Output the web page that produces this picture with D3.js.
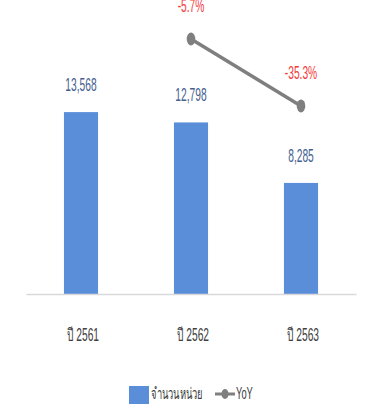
<!DOCTYPE html>
<html><head><meta charset="utf-8">
<script src="https://cdn.jsdelivr.net/npm/d3@7"></script>
<style>html,body{margin:0;padding:0;background:#fff;}svg{display:block;}</style>
</head><body>
<script>
const categories = ["ปี 2561", "ปี 2562", "ปี 2563"];
const units = [13568, 12798, 8285];
const yoy = [null, -5.7, -35.3];
const legendLabels = ["จำนวนหน่วย", "YoY"];

const W = 383, H = 404, SX = 0.585;
const font = "'Liberation Sans', Arial, 'Noto Sans', sans-serif";
const svg = d3.select("body").append("svg").attr("width", W).attr("height", H);

const x = d3.scaleBand().domain(categories).range([26, 356]).paddingInner(0.69).paddingOuter(0.345);
const y = d3.scaleLinear().domain([0, 16000]).range([294, 79.5]);
const y2 = d3.scaleLinear().domain([-40, 0]).range([116.6, 26.1]);

function sText(g, tx, ty, txt, size, color, anchor) {
  return g.append("text")
    .attr("transform", `translate(${tx},${ty}) scale(${SX},1)`)
    .attr("text-anchor", anchor || "middle")
    .attr("font-family", font).attr("font-size", size).attr("fill", color)
    .text(txt);
}

// bars
svg.append("g").selectAll("rect").data(units).join("rect")
  .attr("x", (d, i) => x(categories[i]))
  .attr("y", d => y(d))
  .attr("width", x.bandwidth())
  .attr("height", d => y(0) - y(d))
  .attr("fill", "#5a8ed8");

// axis
const ax = svg.append("g").attr("transform", `translate(0,${y(0)})`)
  .call(d3.axisBottom(x).tickSize(0).tickSizeOuter(0));
ax.select(".domain").attr("stroke", "#d9d9d9").attr("stroke-width", 1.5);
ax.selectAll(".tick text")
  .attr("y", 0).attr("dy", null)
  .attr("transform", `translate(2,47) scale(${SX},1)`)
  .attr("font-family", font).attr("font-size", 17.5).attr("fill", "#404040");

// bar value labels
const lab = svg.append("g");
units.forEach((v, i) => {
  sText(lab, x(categories[i]) + x.bandwidth() / 2, y(v) - 21, d3.format(",")(v), 17.5, "#44608e");
});

// YoY line
const pts = yoy.map((v, i) => ({ c: categories[i], v })).filter(d => d.v !== null);
const line = d3.line().x(d => x(d.c) + x.bandwidth() / 2).y(d => y2(d.v));
svg.append("path").datum(pts).attr("d", line)
  .attr("fill", "none").attr("stroke", "#7f7f7f").attr("stroke-width", 3.5);
svg.append("g").selectAll("ellipse").data(pts).join("ellipse")
  .attr("cx", d => x(d.c) + x.bandwidth() / 2).attr("cy", d => y2(d.v))
  .attr("rx", 4.3).attr("ry", 6.5).attr("fill", "#7f7f7f");
pts.forEach(d => {
  sText(lab, x(d.c) + x.bandwidth() / 2, y2(d.v) - 27, d.v.toFixed(1) + "%", 17.5, "#f23b3b");
});

// legend
const lg = svg.append("g");
lg.append("rect").attr("x", 129).attr("y", 386).attr("width", 20).attr("height", 18).attr("fill", "#5a8ed8");
sText(lg, 151, 399, legendLabels[0], 16, "#404040", "start");
lg.append("line").attr("x1", 215).attr("x2", 235).attr("y1", 394).attr("y2", 394)
  .attr("stroke", "#7f7f7f").attr("stroke-width", 3);
lg.append("ellipse").attr("cx", 225).attr("cy", 394).attr("rx", 3.5).attr("ry", 5).attr("fill", "#7f7f7f");
sText(lg, 236, 399, legendLabels[1], 16, "#404040", "start");
</script>
</body></html>
